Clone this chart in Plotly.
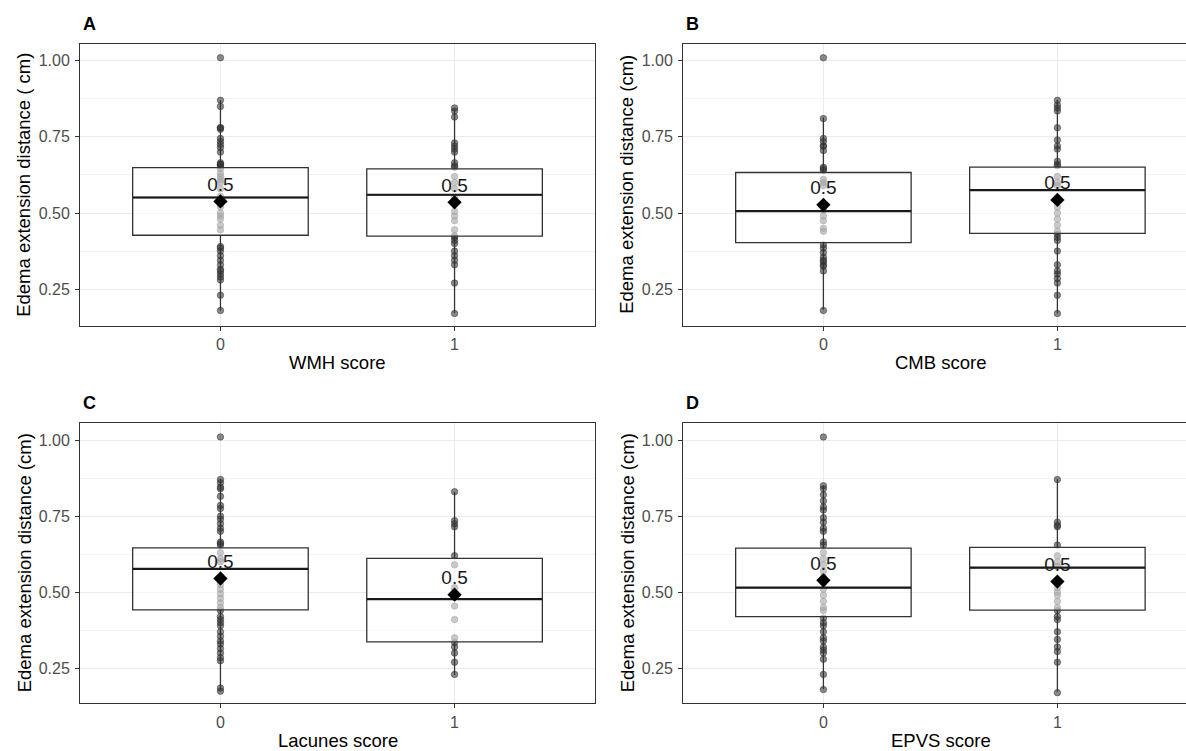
import plotly.graph_objects as go

# ---------------- data ----------------
categories = [0, 1]
cat_labels = ["0", "1"]

wmh_0 = [1.01, 0.87, 0.85, 0.78, 0.78, 0.775, 0.745, 0.735, 0.725, 0.715, 0.70, 0.665, 0.66, 0.66,
         0.655, 0.645, 0.63, 0.62, 0.61, 0.60, 0.58, 0.555, 0.53, 0.52, 0.50, 0.49, 0.48, 0.46,
         0.445, 0.39, 0.385, 0.375, 0.36, 0.345, 0.33, 0.315, 0.31, 0.30, 0.29, 0.28, 0.23, 0.18]
wmh_1 = [0.845, 0.835, 0.815, 0.73, 0.72, 0.71, 0.70, 0.665, 0.655, 0.65, 0.62, 0.60, 0.58, 0.55,
         0.505, 0.49, 0.475, 0.445, 0.425, 0.42, 0.41, 0.40, 0.375, 0.36, 0.345, 0.33, 0.27, 0.17]
cmb_0 = [1.01, 0.81, 0.745, 0.735, 0.72, 0.72, 0.705, 0.65, 0.645, 0.64, 0.61, 0.60, 0.59, 0.51,
         0.49, 0.475, 0.45, 0.44, 0.395, 0.385, 0.37, 0.355, 0.345, 0.34, 0.33, 0.325, 0.31, 0.18]
cmb_1 = [0.87, 0.855, 0.845, 0.835, 0.78, 0.74, 0.72, 0.71, 0.67, 0.66, 0.655, 0.62, 0.60, 0.59,
         0.52, 0.50, 0.48, 0.46, 0.44, 0.43, 0.42, 0.41, 0.375, 0.33, 0.31, 0.30, 0.285, 0.27, 0.23, 0.17]
lac_0 = [1.01, 0.87, 0.86, 0.845, 0.84, 0.815, 0.785, 0.775, 0.75, 0.74, 0.725, 0.71, 0.70, 0.665,
         0.66, 0.655, 0.63, 0.61, 0.60, 0.525, 0.51, 0.495, 0.48, 0.465, 0.45, 0.44, 0.42, 0.41,
         0.40, 0.39, 0.37, 0.355, 0.34, 0.33, 0.315, 0.30, 0.285, 0.275, 0.185, 0.175]
lac_1 = [0.83, 0.735, 0.725, 0.715, 0.62, 0.59, 0.515, 0.455, 0.41, 0.35, 0.335, 0.32, 0.30, 0.27, 0.23]
epvs_0 = [1.01, 0.85, 0.84, 0.82, 0.80, 0.78, 0.77, 0.745, 0.73, 0.71, 0.70, 0.665, 0.655, 0.63,
          0.61, 0.59, 0.57, 0.55, 0.53, 0.51, 0.49, 0.47, 0.45, 0.44, 0.415, 0.40, 0.39, 0.37,
          0.35, 0.34, 0.32, 0.31, 0.30, 0.28, 0.23, 0.18]
epvs_1 = [0.87, 0.73, 0.72, 0.715, 0.655, 0.62, 0.60, 0.585, 0.515, 0.50, 0.49, 0.47, 0.45, 0.44,
          0.42, 0.41, 0.37, 0.345, 0.32, 0.305, 0.27, 0.17]

# box statistics per category [score 0, score 1]
wmh_q1 = [0.427, 0.424];  wmh_med = [0.551, 0.560];  wmh_q3 = [0.649, 0.645]
wmh_lo = [0.18, 0.172];   wmh_hi = [0.87, 0.842];    wmh_mean = [0.538, 0.535]
cmb_q1 = [0.403, 0.433];  cmb_med = [0.506, 0.575];  cmb_q3 = [0.633, 0.651]
cmb_lo = [0.182, 0.171];  cmb_hi = [0.814, 0.872];   cmb_mean = [0.527, 0.543]
lac_q1 = [0.442, 0.337];  lac_med = [0.577, 0.477];  lac_q3 = [0.646, 0.611]
lac_lo = [0.178, 0.228];  lac_hi = [0.872, 0.829];   lac_mean = [0.545, 0.492]
epvs_q1 = [0.42, 0.441];  epvs_med = [0.515, 0.581]; epvs_q3 = [0.645, 0.647]
epvs_lo = [0.182, 0.173]; epvs_hi = [0.849, 0.872];  epvs_mean = [0.539, 0.535]

panel_tags = ["A", "B", "C", "D"]
x_titles = ["WMH score", "CMB score", "Lacunes score", "EPVS score"]
y_titles = ["Edema extension distance ( cm)", "Edema extension distance (cm)",
            "Edema extension distance (cm)", "Edema extension distance (cm)"]

# ---------------- styling ----------------
W, H = 1186, 751
FONT = "Arial, 'Liberation Sans', sans-serif"
BOX_WIDTH = 0.75
LABEL_OFFSET = 0.05
POINT_COLOR = "rgba(60,60,60,0.6)"
BOX_FILL = "rgba(255,255,255,0.55)"
BORDER = "#333333"

panels = [
    dict(g0=wmh_0, g1=wmh_1, q1=wmh_q1, med=wmh_med, q3=wmh_q3, lo=wmh_lo, hi=wmh_hi, mean=wmh_mean),
    dict(g0=cmb_0, g1=cmb_1, q1=cmb_q1, med=cmb_med, q3=cmb_q3, lo=cmb_lo, hi=cmb_hi, mean=cmb_mean),
    dict(g0=lac_0, g1=lac_1, q1=lac_q1, med=lac_med, q3=lac_q3, lo=lac_lo, hi=lac_hi, mean=lac_mean),
    dict(g0=epvs_0, g1=epvs_1, q1=epvs_q1, med=epvs_med, q3=epvs_q3, lo=epvs_lo, hi=epvs_hi, mean=epvs_mean),
]

# pixel geometry of each panel: (left, right, top, bottom, x-range, y-range)
px_geom = [
    (80, 595, 44, 325.7, [-0.6, 1.6], [0.13, 1.055]),
    (683, 1186, 44, 325.7, [-0.6, 1.5496], [0.13, 1.055]),
    (80, 595, 423.3, 703.3, [-0.6, 1.6], [0.135, 1.055]),
    (683, 1186, 423.3, 703.3, [-0.6, 1.5496], [0.135, 1.055]),
]
FULL_PANEL_PX = 515  # width of an uncropped panel

fig = go.Figure()
layout = dict(width=W, height=H, margin=dict(l=0, r=0, t=0, b=0),
              paper_bgcolor="white", plot_bgcolor="white", showlegend=False,
              boxmode="overlay", font=dict(family=FONT))
annotations = []

for i, p in enumerate(panels):
    sfx = "" if i == 0 else str(i + 1)
    xa, ya = "x" + sfx, "y" + sfx
    left, right, top, bottom, xr, yr = px_geom[i]

    # raw points (drawn first, under the box fill)
    xs = [categories[0]] * len(p["g0"]) + [categories[1]] * len(p["g1"])
    ys = p["g0"] + p["g1"]
    fig.add_trace(go.Box(
        x=xs, y=ys, xaxis=xa, yaxis=ya, boxpoints="all", jitter=0, pointpos=0,
        width=BOX_WIDTH, line=dict(width=0, color="rgba(0,0,0,0)"), fillcolor="rgba(0,0,0,0)",
        marker=dict(size=6.5, color=POINT_COLOR, line=dict(width=0.8, color="rgba(40,40,40,0.6)")),
        hoverinfo="skip"))

    # boxes with semi-transparent white fill
    fig.add_trace(go.Box(
        x=categories, q1=p["q1"], median=p["med"], q3=p["q3"],
        lowerfence=p["lo"], upperfence=p["hi"], xaxis=xa, yaxis=ya,
        boxpoints=False, width=BOX_WIDTH, whiskerwidth=0,
        line=dict(width=1.3, color=BORDER), fillcolor=BOX_FILL, hoverinfo="skip"))

    # thicker median line
    mx, my = [], []
    for c, m in zip(categories, p["med"]):
        mx += [c - BOX_WIDTH / 2, c + BOX_WIDTH / 2, None]
        my += [m, m, None]
    fig.add_trace(go.Scatter(x=mx, y=my, xaxis=xa, yaxis=ya, mode="lines",
                             line=dict(color="#1a1a1a", width=2.2), hoverinfo="skip"))

    # mean diamonds
    fig.add_trace(go.Scatter(x=categories, y=p["mean"], xaxis=xa, yaxis=ya, mode="markers",
                             marker=dict(symbol="diamond", size=11, color="black"), hoverinfo="skip"))

    # mean labels
    fig.add_trace(go.Scatter(x=categories, y=[m + LABEL_OFFSET for m in p["mean"]],
                             text=[f"{round(m, 1)}" for m in p["mean"]], xaxis=xa, yaxis=ya,
                             mode="text", textposition="middle center",
                             textfont=dict(size=19, color="#1a1a1a", family=FONT), hoverinfo="skip"))

    right_side = i in (1, 3)
    layout["xaxis" + sfx] = dict(
        domain=[left / W, right / W], range=xr, anchor=ya,
        tickmode="array", tickvals=categories, ticktext=cat_labels,
        showgrid=True, gridcolor="#EBEBEB", gridwidth=1, zeroline=False,
        showline=True, linecolor=BORDER, linewidth=1, mirror=True,
        ticks="outside", ticklen=4, tickcolor=BORDER, tickwidth=1,
        tickfont=dict(size=16, color="#4D4D4D", family=FONT), ticklabelstandoff=0)
    layout["yaxis" + sfx] = dict(
        domain=[1 - bottom / H, 1 - top / H], range=yr, anchor=xa,
        tickmode="linear", tick0=0, dtick=0.25, tickformat=".2f",
        minor=dict(tick0=0, dtick=0.125, showgrid=True, gridcolor="#F3F3F3", gridwidth=1),
        showgrid=True, gridcolor="#EBEBEB", gridwidth=1, zeroline=False,
        showline=True, linecolor=BORDER, linewidth=1, mirror=not right_side,
        ticks="outside", ticklen=4, tickcolor=BORDER, tickwidth=1,
        tickfont=dict(size=16, color="#4D4D4D", family=FONT), ticklabelstandoff=2)

    xc = left + FULL_PANEL_PX / 2
    annotations.append(dict(text=x_titles[i], x=xc / W, y=1 - (bottom + 37) / H,
                            xref="paper", yref="paper", showarrow=False,
                            xanchor="center", yanchor="middle",
                            font=dict(size=18.5, color="black", family=FONT)))
    annotations.append(dict(text=y_titles[i], x=(left - 56) / W, y=1 - (top + bottom) / 2 / H,
                            xref="paper", yref="paper", showarrow=False, textangle=-90,
                            xanchor="center", yanchor="middle",
                            font=dict(size=18.5, color="black", family=FONT)))
    annotations.append(dict(text="<b>" + panel_tags[i] + "</b>", x=(left + 1) / W,
                            y=1 - (top - 20) / H, xref="paper", yref="paper", showarrow=False,
                            xanchor="left", yanchor="middle",
                            font=dict(size=18, color="black", family=FONT)))

layout["annotations"] = annotations
fig.update_layout(**layout)
fig.write_html("out.html", config={"displayModeBar": False},
               post_script="document.body.style.margin='0';document.body.style.overflow='hidden';")
